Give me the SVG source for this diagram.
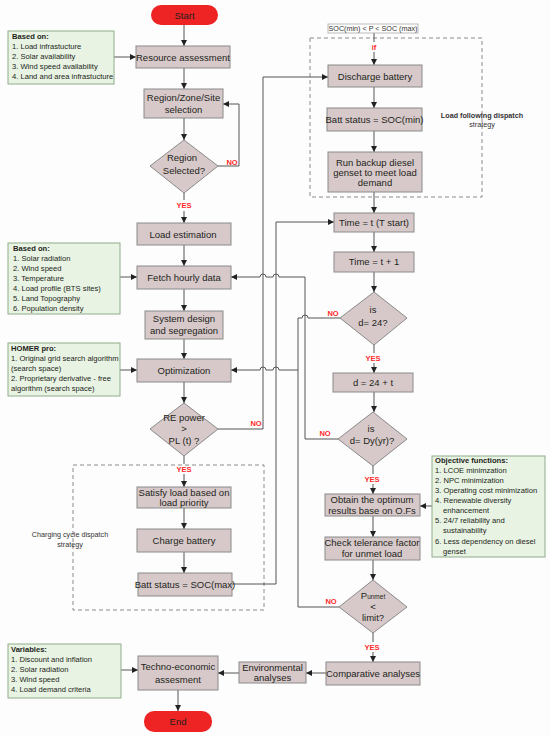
<svg xmlns="http://www.w3.org/2000/svg" width="550" height="736" viewBox="0 0 550 736">
<style>
.bg{fill:#fdfdfd}
.n{fill:#d7c9c9;stroke:#8a8a8a;stroke-width:1}
.t{fill:#ee2424}
.note{fill:#e8f3e3;stroke:#8fae8a;stroke-width:1}
.tx{font-family:"Liberation Sans",Arial,sans-serif;font-size:9.5px;fill:#231f20;text-anchor:middle}
.nt{font-family:"Liberation Sans",Arial,sans-serif;font-size:7.6px;fill:#231f20}
.nb{font-weight:bold}
.lb{font-family:"Liberation Sans",Arial,sans-serif;font-size:7.5px;font-weight:bold;fill:#ff2a2a;text-anchor:middle}
.sm{font-family:"Liberation Sans",Arial,sans-serif;font-size:7.2px;fill:#333;text-anchor:middle}
.c{fill:none;stroke:#555;stroke-width:1}
.d{fill:none;stroke:#8a8a8a;stroke-width:1;stroke-dasharray:4 3}
</style>
<defs>
<marker id="a" markerWidth="7" markerHeight="7" refX="6" refY="3.5" orient="auto" markerUnits="userSpaceOnUse">
<path d="M0,0.5 L6,3.5 L0,6.5 Z" fill="#222"/>
</marker>
</defs>
<rect class="bg" x="0" y="0" width="550" height="736"/>

<g id="dashed-boxes">
<rect class="d" x="310" y="38" width="172" height="159"/>
<rect class="d" x="73" y="465" width="191" height="145"/>
<text class="sm" x="482" y="118" font-weight="bold">Load following dispatch</text>
<text class="sm" x="482" y="127">strategy</text>
<text class="sm" x="70" y="537">Charging cycle dispatch</text>
<text class="sm" x="70" y="547">strategy</text>
</g>

<g id="connectors">
<path class="c" d="M184,25 V46" marker-end="url(#a)"/>
<path class="c" d="M184,68 V89" marker-end="url(#a)"/>
<path class="c" d="M184,118 V140" marker-end="url(#a)"/>
<path class="c" d="M218,166 H239 V104 H223" marker-end="url(#a)"/>
<path class="c" d="M184,193 V200 M184,211 V223" marker-end="url(#a)"/>
<path class="c" d="M184,245 V266" marker-end="url(#a)"/>
<path class="c" d="M184,289 V311" marker-end="url(#a)"/>
<path class="c" d="M184,339 V359" marker-end="url(#a)"/>
<path class="c" d="M184,382 V403" marker-end="url(#a)"/>
<path class="c" d="M218,429 H263 V77 H328" marker-end="url(#a)"/>
<path class="c" d="M184,456 V464 M184,474 V487" marker-end="url(#a)"/>
<path class="c" d="M184,508 V529" marker-end="url(#a)"/>
<path class="c" d="M184,552 V573" marker-end="url(#a)"/>
<path class="c" d="M232,584 H276 V222 H334" marker-end="url(#a)"/>
<path class="c" d="M374,33 V42 M374,52 V65" marker-end="url(#a)"/>
<path class="c" d="M374,87 V108" marker-end="url(#a)"/>
<path class="c" d="M374,131 V152" marker-end="url(#a)"/>
<path class="c" d="M374,192 V213" marker-end="url(#a)"/>
<path class="c" d="M374,232 V252" marker-end="url(#a)"/>
<path class="c" d="M374,272 V292" marker-end="url(#a)"/>
<path class="c" d="M374,345 V353 M374,363 V373" marker-end="url(#a)"/>
<path class="c" d="M374,392 V412" marker-end="url(#a)"/>
<path class="c" d="M373,466 V474 M373,484 V494" marker-end="url(#a)"/>
<path class="c" d="M373,516 V537" marker-end="url(#a)"/>
<path class="c" d="M373,560 V580" marker-end="url(#a)"/>
<path class="c" d="M373,633 V642 M373,652 V662" marker-end="url(#a)"/>
<path class="c" d="M326,673 H306" marker-end="url(#a)"/>
<path class="c" d="M239,673 H218" marker-end="url(#a)"/>
<path class="c" d="M178,690 V711" marker-end="url(#a)"/>
<path class="c" d="M114,57 H136" marker-end="url(#a)"/>
<path class="c" d="M120,277 H137" marker-end="url(#a)"/>
<path class="c" d="M120,370 H137" marker-end="url(#a)"/>
<path class="c" d="M121,670 H138" marker-end="url(#a)"/>
<path class="c" d="M432,506 H420" marker-end="url(#a)"/>
<path class="c" d="M338,439 H305 V277 H279 A3,3 0 0 0 273,277 H266 A3,3 0 0 0 260,277 H231" marker-end="url(#a)"/>
<path class="c" d="M340,318 H308 A3,3 0 0 0 302,318 H298 V607 H339"/>
<path class="c" d="M298,370 H279 A3,3 0 0 0 273,370 H266 A3,3 0 0 0 260,370 H231" marker-end="url(#a)"/>
</g>

<g id="start"><rect class="t" x="151" y="5" width="67" height="20" rx="10"/><text class="tx" x="184.5" y="18.5">Start</text></g>
<g id="note1">
<rect class="note" x="8" y="31" width="106" height="53"/>
<text class="nt nb" x="12" y="39">Based on:</text>
<text class="nt" x="12" y="49">1.  Load infrastucture</text>
<text class="nt" x="12" y="59">2.  Solar availability</text>
<text class="nt" x="12" y="69">3.  Wind speed availability</text>
<text class="nt" x="12" y="79">4.  Land and area infrastucture</text>
</g>
<g id="resource"><rect class="n" x="136" y="46" width="94" height="22"/><text class="tx" x="183" y="60.5">Resource assessment</text></g>
<g id="region"><rect class="n" x="144" y="89" width="79" height="29"/><text class="tx" x="183.5" y="101">Region/Zone/Site</text><text class="tx" x="183.5" y="113">selection</text></g>
<g id="region-selected"><polygon class="n" points="184,140 218,166 184,193 150,166"/><text class="tx" x="182" y="161">Region</text><text class="tx" x="184" y="174">Selected?</text></g>
<g id="load-est"><rect class="n" x="137" y="223" width="94" height="22"/><text class="tx" x="183" y="237.5">Load estimation</text></g>
<g id="note2">
<rect class="note" x="8" y="243" width="112" height="71"/>
<text class="nt nb" x="13" y="251">Based on:</text>
<text class="nt" x="13" y="261">1.  Solar radiation</text>
<text class="nt" x="13" y="271">2.  Wind speed</text>
<text class="nt" x="13" y="281">3.  Temperature</text>
<text class="nt" x="13" y="291">4.  Load profile (BTS sites)</text>
<text class="nt" x="13" y="301">5.  Land Topography</text>
<text class="nt" x="13" y="311">6.  Population density</text>
</g>
<g id="fetch"><rect class="n" x="137" y="266" width="94" height="23"/><text class="tx" x="184" y="280.5">Fetch hourly data</text></g>
<g id="system"><rect class="n" x="145" y="311" width="78" height="28"/><text class="tx" x="184" y="322">System design</text><text class="tx" x="184" y="334">and segregation</text></g>
<g id="note3">
<rect class="note" x="8" y="343" width="112" height="53"/>
<text class="nt nb" x="11" y="351">HOMER pro:</text>
<text class="nt" x="11" y="361">1. Original grid search algorithm</text>
<text class="nt" x="11" y="371">(search space)</text>
<text class="nt" x="11" y="381">2. Proprietary derivative - free</text>
<text class="nt" x="11" y="391">algorithm (search space)</text>
</g>
<g id="optimization"><rect class="n" x="137" y="359" width="94" height="23"/><text class="tx" x="184" y="373.5">Optimization</text></g>
<g id="re-power"><polygon class="n" points="184,403 218,429 184,456 150,429"/><text class="tx" x="184" y="421">RE power</text><text class="tx" x="184" y="432" font-size="6.5px">&gt;</text><text class="tx" x="184" y="444">PL (t) ?</text></g>
<g id="satisfy"><rect class="n" x="137" y="487" width="94" height="21"/><text class="tx" x="184" y="496">Satisfy load based on</text><text class="tx" x="184" y="505.5">load priority</text></g>
<g id="charge"><rect class="n" x="137" y="529" width="94" height="23"/><text class="tx" x="184" y="543.5">Charge battery</text></g>
<g id="batt-max"><rect class="n" x="138" y="573" width="94" height="23"/><text class="tx" x="185" y="587.5">Batt status = SOC(max)</text></g>

<g id="soc-cond"><rect x="328" y="24" width="90" height="9" fill="#fff" stroke="#aaa" stroke-width="0.8"/><text class="sm" x="373" y="31" font-size="7px">SOC(min) &lt; P &lt; SOC (max)</text></g>
<g id="discharge"><rect class="n" x="328" y="65" width="94" height="22"/><text class="tx" x="375" y="79.5">Discharge battery</text></g>
<g id="batt-min"><rect class="n" x="327" y="108" width="95" height="23"/><text class="tx" x="374.5" y="122.5">Batt status = SOC(min)</text></g>
<g id="diesel"><rect class="n" x="328" y="152" width="94" height="40"/><text class="tx" x="375" y="166">Run backup diesel</text><text class="tx" x="375" y="176">genset to meet load</text><text class="tx" x="375" y="186">demand</text></g>
<g id="time-start"><rect class="n" x="334" y="213" width="80" height="19"/><text class="tx" x="374" y="225.5">Time = t (T start)</text></g>
<g id="time-inc"><rect class="n" x="334" y="252" width="80" height="20"/><text class="tx" x="374" y="265">Time = t + 1</text></g>
<g id="d24"><polygon class="n" points="374,292 407,318 374,345 340,318"/><text class="tx" x="373" y="313">is</text><text class="tx" x="373" y="325.5">d= 24?</text></g>
<g id="d24t"><rect class="n" x="333" y="373" width="80" height="19"/><text class="tx" x="373" y="385.5">d = 24 + t</text></g>
<g id="ddy"><polygon class="n" points="373,412 407,439 373,466 338,439"/><text class="tx" x="371" y="432">is</text><text class="tx" x="372" y="444">d= Dy(yr)?</text></g>
<g id="note-obj">
<rect class="note" x="432" y="456" width="113" height="101"/>
<text class="nt nb" x="435" y="463">Objective functions:</text>
<text class="nt" x="435" y="473">1. LCOE minimzation</text>
<text class="nt" x="435" y="483">2. NPC minimization</text>
<text class="nt" x="435" y="493">3. Operating cost minimization</text>
<text class="nt" x="435" y="503">4. Renewable diversity</text>
<text class="nt" x="443" y="513">enhancement</text>
<text class="nt" x="435" y="523">5. 24/7 reliability and</text>
<text class="nt" x="443" y="533">sustainability</text>
<text class="nt" x="435" y="544">6. Less dependency on diesel</text>
<text class="nt" x="443" y="554">genset</text>
</g>
<g id="obtain"><rect class="n" x="325" y="494" width="95" height="22"/><text class="tx" x="372" y="503">Obtain the optimum</text><text class="tx" x="372" y="513.5">results  base on O.Fs</text></g>
<g id="check"><rect class="n" x="325" y="537" width="95" height="23"/><text class="tx" x="372" y="546">Check telerance factor</text><text class="tx" x="372" y="557">for unmet load</text></g>
<g id="punmet"><polygon class="n" points="373,580 407,607 373,633 339,607"/><text class="tx" x="373" y="599">P<tspan font-size="6.5px">unmet</tspan></text><text class="tx" x="373" y="610">&lt;</text><text class="tx" x="373" y="621">limit?</text></g>
<g id="comparative"><rect class="n" x="326" y="662" width="94" height="23"/><text class="tx" x="373" y="676.5">Comparative analyses</text></g>
<g id="environmental"><rect class="n" x="239" y="662" width="67" height="21"/><text class="tx" x="272.5" y="671">Environmental</text><text class="tx" x="272.5" y="681">analyses</text></g>
<g id="note4">
<rect class="note" x="8" y="644" width="113" height="54"/>
<text class="nt nb" x="11" y="652">Variables:</text>
<text class="nt" x="11" y="662">1. Discount and inflation</text>
<text class="nt" x="11" y="672">2. Solar radiation</text>
<text class="nt" x="11" y="682">3. Wind speed</text>
<text class="nt" x="11" y="692">4. Load demand criteria</text>
</g>
<g id="techno"><rect class="n" x="138" y="656" width="80" height="34"/><text class="tx" x="178" y="670">Techno-economic</text><text class="tx" x="178" y="683">assesment</text></g>
<g id="end"><rect class="t" x="144" y="711" width="68" height="21" rx="10"/><text class="tx" x="178" y="725">End</text></g>

<g id="labels">
<text class="lb" x="232" y="165">NO</text>
<text class="lb" x="184" y="208">YES</text>
<text class="lb" x="256" y="426">NO</text>
<text class="lb" x="184" y="472">YES</text>
<text class="lb" x="374" y="50" font-weight="normal">if</text>
<text class="lb" x="333" y="316">NO</text>
<text class="lb" x="373" y="361">YES</text>
<text class="lb" x="325" y="436">NO</text>
<text class="lb" x="372" y="482">YES</text>
<text class="lb" x="331" y="604">NO</text>
<text class="lb" x="372" y="650">YES</text>
</g>
</svg>
